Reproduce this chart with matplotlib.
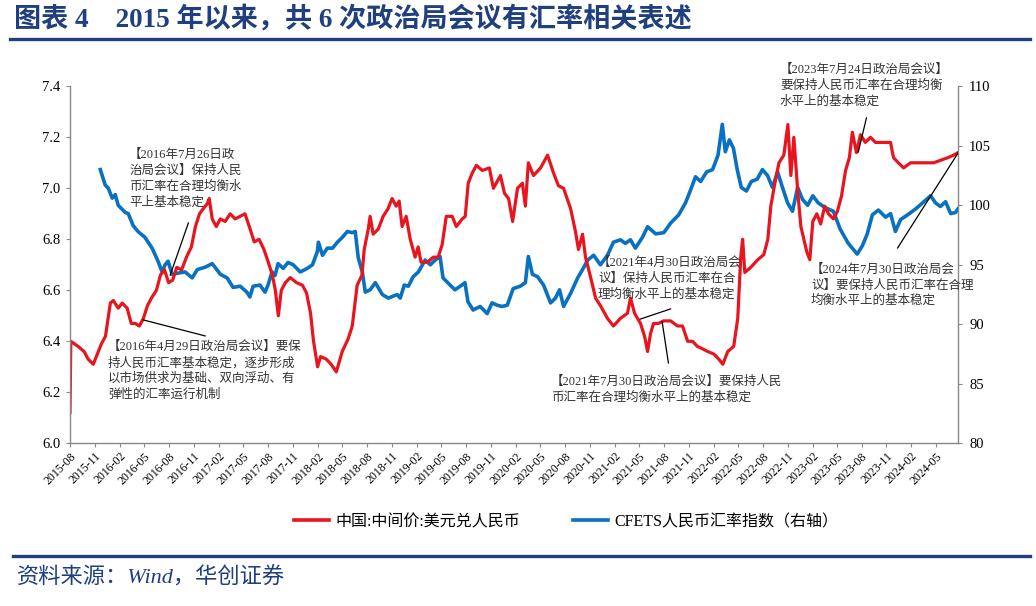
import matplotlib
matplotlib.use("Agg")
import matplotlib.pyplot as plt
import pandas as pd
from matplotlib.lines import Line2D

plt.rcParams['font.family'] = ['Liberation Serif', 'Noto Sans CJK SC']
plt.rcParams['axes.unicode_minus'] = False

# 中间价：美元兑人民币（左轴）
usd_dates = [
    '2015-08-10', '2015-08-13', '2015-09-09', '2015-10-01', '2015-10-16', '2015-11-04', '2015-11-19', '2015-12-04', '2015-12-19', '2015-12-26',
    '2016-01-06', '2016-01-17', '2016-02-04', '2016-02-19', '2016-03-08', '2016-03-23', '2016-04-07', '2016-04-22', '2016-05-07', '2016-05-22',
    '2016-06-06', '2016-06-24', '2016-07-09', '2016-07-24', '2016-08-08', '2016-08-23', '2016-09-07', '2016-09-25', '2016-10-13', '2016-10-31',
    '2016-11-15', '2016-11-30', '2016-12-14', '2016-12-29', '2017-01-05', '2017-01-16', '2017-01-31', '2017-02-15', '2017-03-05', '2017-03-23',
    '2017-04-11', '2017-04-29', '2017-05-17', '2017-06-05', '2017-06-20', '2017-07-08', '2017-07-26', '2017-08-11', '2017-08-26', '2017-09-06',
    '2017-09-17', '2017-09-28', '2017-10-13', '2017-10-31', '2017-11-23', '2017-12-15', '2017-12-30', '2018-01-14', '2018-01-25', '2018-02-09',
    '2018-02-20', '2018-03-13', '2018-03-31', '2018-04-19', '2018-05-11', '2018-06-02', '2018-06-17', '2018-07-05', '2018-07-23', '2018-07-31',
    '2018-08-15', '2018-08-22', '2018-09-02', '2018-09-21', '2018-10-09', '2018-10-27', '2018-11-11', '2018-11-26', '2018-12-07', '2018-12-18',
    '2019-01-02', '2019-01-17', '2019-02-04', '2019-02-15', '2019-02-26', '2019-03-21', '2019-04-12', '2019-04-30', '2019-05-15', '2019-05-30',
    '2019-06-21', '2019-07-06', '2019-07-28', '2019-08-08', '2019-08-19', '2019-09-03', '2019-09-18', '2019-10-10', '2019-11-05', '2019-11-20',
    '2019-12-16', '2019-12-31', '2020-01-15', '2020-01-30', '2020-02-17', '2020-03-06', '2020-03-17', '2020-03-28', '2020-04-16', '2020-05-12',
    '2020-06-07', '2020-06-29', '2020-07-17', '2020-08-05', '2020-08-31', '2020-09-18', '2020-09-29', '2020-10-14', '2020-10-25', '2020-11-13',
    '2020-12-01', '2020-12-19', '2021-01-14', '2021-02-05', '2021-03-03', '2021-03-29', '2021-04-09', '2021-04-24', '2021-05-16', '2021-05-31',
    '2021-06-11', '2021-06-22', '2021-07-03', '2021-07-21', '2021-08-09', '2021-09-04', '2021-09-30', '2021-10-18', '2021-11-06', '2021-11-24',
    '2021-12-12', '2022-01-01', '2022-01-19', '2022-02-11', '2022-03-01', '2022-03-16', '2022-04-03', '2022-04-25', '2022-05-10', '2022-05-21',
    '2022-05-28', '2022-06-05', '2022-06-27', '2022-07-23', '2022-08-14', '2022-08-29', '2022-09-09', '2022-09-24', '2022-10-09', '2022-10-27',
    '2022-11-11', '2022-11-22', '2022-12-03', '2022-12-18', '2022-12-29', '2023-01-09', '2023-01-20', '2023-01-31', '2023-02-11', '2023-02-26',
    '2023-03-12', '2023-03-27', '2023-04-10', '2023-04-28', '2023-05-13', '2023-05-28', '2023-06-12', '2023-06-26', '2023-07-07', '2023-07-22',
    '2023-08-06', '2023-08-24', '2023-09-12', '2023-09-30', '2023-10-26', '2023-11-25', '2023-12-06', '2023-12-24', '2024-01-12', '2024-02-07',
    '2024-03-04', '2024-04-03', '2024-05-02', '2024-05-28', '2024-06-23', '2024-07-15', '2024-07-31',
]
usd_rate = [
    6.12, 6.40, 6.38, 6.36, 6.33, 6.31, 6.35, 6.39, 6.42, 6.47,
    6.55, 6.56, 6.53, 6.55, 6.53, 6.47, 6.47, 6.46, 6.49, 6.54,
    6.57, 6.60, 6.66, 6.68, 6.63, 6.64, 6.69, 6.68, 6.73, 6.77,
    6.85, 6.90, 6.92, 6.94, 6.96, 6.88, 6.85, 6.88, 6.87, 6.90,
    6.88, 6.89, 6.90, 6.84, 6.79, 6.80, 6.76, 6.71, 6.66, 6.60,
    6.50, 6.60, 6.63, 6.65, 6.63, 6.62, 6.59, 6.51, 6.40, 6.30,
    6.34, 6.33, 6.31, 6.28, 6.36, 6.41, 6.46, 6.62, 6.66, 6.76,
    6.84, 6.89, 6.82, 6.84, 6.89, 6.92, 6.96, 6.93, 6.95, 6.85,
    6.89, 6.80, 6.73, 6.77, 6.71, 6.71, 6.73, 6.73, 6.78, 6.89,
    6.89, 6.85, 6.88, 6.89, 7.02, 7.06, 7.09, 7.07, 7.08, 7.00,
    7.05, 6.98, 6.96, 6.87, 7.00, 7.02, 6.93, 7.10, 7.05, 7.08,
    7.13, 7.06, 7.01, 7.00, 6.92, 6.83, 6.76, 6.82, 6.73, 6.65,
    6.57, 6.54, 6.49, 6.46, 6.49, 6.51, 6.57, 6.51, 6.47, 6.42,
    6.36, 6.43, 6.47, 6.47, 6.48, 6.48, 6.46, 6.46, 6.40, 6.40,
    6.38, 6.37, 6.36, 6.35, 6.33, 6.31, 6.36, 6.38, 6.49, 6.73,
    6.80, 6.67, 6.69, 6.72, 6.74, 6.80, 6.93, 7.02, 7.10, 7.13,
    7.25, 7.05, 7.20, 6.98, 6.85, 6.80, 6.75, 6.72, 6.87, 6.90,
    6.86, 6.93, 6.90, 6.88, 6.91, 6.97, 7.07, 7.12, 7.22, 7.14,
    7.21, 7.18, 7.20, 7.18, 7.18, 7.18, 7.12, 7.10, 7.08, 7.10,
    7.10, 7.10, 7.10, 7.11, 7.12, 7.13, 7.14,
]

# CFETS人民币汇率指数（右轴）
cfets_dates = [
    '2015-11-30', '2015-12-18', '2015-12-29', '2016-01-13', '2016-01-24', '2016-02-04', '2016-03-01', '2016-03-12', '2016-03-30', '2016-04-17',
    '2016-05-13', '2016-06-08', '2016-06-30', '2016-07-15', '2016-07-26', '2016-08-06', '2016-08-21', '2016-09-12', '2016-10-08', '2016-11-03',
    '2016-11-22', '2016-12-21', '2017-01-16', '2017-02-15', '2017-03-12', '2017-04-03', '2017-04-29', '2017-05-24', '2017-06-04', '2017-06-16',
    '2017-07-11', '2017-07-30', '2017-08-10', '2017-08-25', '2017-09-05', '2017-09-16', '2017-10-05', '2017-10-23', '2017-11-11', '2017-12-07',
    '2018-01-02', '2018-01-21', '2018-02-08', '2018-02-12', '2018-02-27', '2018-03-17', '2018-04-05', '2018-04-23', '2018-05-11', '2018-05-30',
    '2018-06-17', '2018-06-28', '2018-07-09', '2018-07-24', '2018-08-04', '2018-08-22', '2018-09-10', '2018-10-06', '2018-10-28', '2018-11-30',
    '2018-12-11', '2018-12-26', '2019-01-10', '2019-01-28', '2019-02-16', '2019-03-13', '2019-04-01', '2019-04-19', '2019-05-07', '2019-05-18',
    '2019-06-13', '2019-07-01', '2019-07-27', '2019-08-07', '2019-08-18', '2019-09-06', '2019-10-02', '2019-10-28', '2019-11-15', '2019-12-04',
    '2019-12-22', '2020-01-10', '2020-02-01', '2020-02-27', '2020-03-17', '2020-03-28', '2020-04-12', '2020-05-01', '2020-05-23', '2020-06-18',
    '2020-07-06', '2020-07-21', '2020-08-05', '2020-08-31', '2020-09-26', '2020-10-14', '2020-11-02', '2020-11-24', '2020-12-19', '2021-01-14',
    '2021-02-05', '2021-03-03', '2021-03-21', '2021-04-09', '2021-04-27', '2021-05-23', '2021-06-11', '2021-07-11', '2021-08-10', '2021-09-04',
    '2021-10-04', '2021-10-29', '2021-11-17', '2021-12-05', '2021-12-24', '2022-01-15', '2022-02-06', '2022-02-26', '2022-03-14', '2022-03-25',
    '2022-04-09', '2022-04-24', '2022-05-08', '2022-05-23', '2022-06-11', '2022-06-29', '2022-07-21', '2022-08-09', '2022-08-28', '2022-09-15',
    '2022-10-04', '2022-10-22', '2022-11-10', '2022-11-28', '2022-12-17', '2023-01-04', '2023-01-23', '2023-02-11', '2023-03-03', '2023-03-29',
    '2023-04-28', '2023-05-23', '2023-06-22', '2023-07-25', '2023-08-13', '2023-08-31', '2023-09-19', '2023-10-11', '2023-11-07', '2023-11-25',
    '2023-12-13', '2024-01-01', '2024-01-27', '2024-02-26', '2024-03-22', '2024-04-21', '2024-05-09', '2024-05-27', '2024-06-15', '2024-07-04',
    '2024-07-22', '2024-07-31',
]
cfets_index = [
    103.0, 101.7, 101.45, 100.6, 100.9, 100.0, 99.4, 99.3, 98.3, 97.8,
    97.3, 96.4, 95.3, 94.4, 95.0, 95.3, 94.2, 94.3, 94.4, 93.9,
    94.6, 94.8, 95.1, 94.2, 93.9, 93.1, 93.2, 92.7, 92.3, 93.2,
    93.3, 92.7, 93.3, 94.4, 94.1, 95.1, 94.7, 95.2, 95.0, 94.4,
    94.7, 95.0, 96.1, 96.9, 95.8, 96.4, 96.4, 96.9, 97.3, 97.8,
    97.7, 97.8, 95.6, 94.4, 92.7, 92.9, 93.5, 92.5, 92.2, 92.5,
    92.2, 93.3, 93.2, 94.0, 94.4, 95.4, 95.0, 95.4, 95.7, 93.9,
    93.3, 92.9, 93.3, 93.5, 91.9, 91.2, 91.5, 90.9, 91.8, 91.6,
    91.5, 91.6, 93.0, 93.2, 93.5, 95.7, 94.2, 94.0, 93.3, 91.8,
    92.2, 92.9, 91.5, 92.6, 93.9, 94.6, 95.4, 95.8, 95.0, 95.8,
    96.9, 97.1, 96.8, 97.1, 96.4, 97.3, 98.2, 97.6, 97.7, 98.5,
    99.2, 100.2, 101.3, 102.4, 102.0, 102.8, 103.0, 104.2, 106.8, 104.5,
    105.5, 104.8, 103.0, 101.5, 101.2, 102.0, 102.2, 103.0, 102.5, 101.5,
    102.8, 101.5, 100.2, 99.5, 101.5, 100.5, 100.0, 100.8, 100.2, 99.8,
    99.5, 98.0, 96.8, 95.9, 96.6, 97.6, 99.2, 99.6, 99.0, 99.3,
    97.8, 98.8, 99.2, 99.7, 100.2, 100.8, 100.2, 99.9, 100.3, 99.3,
    99.4, 99.7,
]

# 政治局会议标注：文字行、文字左端与首行中心（像素）、行距、引线两端（日期, 左轴数值）
notes = [
    (['【2016年7月26日政', '治局会议】保持人民', '币汇率在合理均衡水', '平上基本稳定'],
     129, 155, 16, ('2016-08-14', 6.66), ('2016-10-20', 6.864)),
    (['【2016年4月29日政治局会议】要保', '持人民币汇率基本稳定，逐步形成', '以市场供求为基础、双向浮动、有', '弹性的汇率运行机制'],
     108, 347, 16, ('2016-05-06', 6.484), ('2016-12-21', 6.421)),
    (['【2021年4月30日政治局会', '议】保持人民币汇率在合', '理均衡水平上的基本稳定'],
     598, 263, 16, ('2021-05-15', 6.487), ('2021-09-04', 6.527)),
    (['【2021年7月30日政治局会议】要保持人民', '币汇率在合理均衡水平上的基本稳定'],
     551, 382, 15.5, ('2021-08-04', 6.476), ('2021-08-27', 6.315)),
    (['【2023年7月24日政治局会议】', '要保持人民币汇率在合理均衡', '水平上的基本稳定'],
     780, 70, 16, ('2023-07-29', 7.142), ('2023-08-28', 7.276)),
    (['【2024年7月30日政治局会', '议】要保持人民币汇率在合理', '均衡水平上的基本稳定'],
     811, 270, 15.5, ('2024-07-31', 7.138), ('2023-12-21', 6.766)),
]

W, H = 1036, 606
RED = '#E8141E'
BLUE = '#0A70C0'
NAVY = '#1F3F7F'

fig = plt.figure(figsize=(W / 100, H / 100), dpi=100)
ax = fig.add_axes([70 / W, 1 - 443.3 / H, 888 / W, 357 / H])
ax2 = ax.twinx()

ax.plot(pd.to_datetime(usd_dates), usd_rate, color=RED, lw=2.3, solid_joinstyle='round')
ax2.plot(pd.to_datetime(cfets_dates), cfets_index, color=BLUE, lw=2.6, solid_joinstyle='round')

ax.set_xlim(pd.Timestamp('2015-08-10'), pd.Timestamp('2024-07-31'))
ax.set_ylim(6.0, 7.4)
ax2.set_ylim(80, 110)
ax.set_yticks([6.0, 6.2, 6.4, 6.6, 6.8, 7.0, 7.2, 7.4])
ax.set_yticklabels(['6.0', '6.2', '6.4', '6.6', '6.8', '7.0', '7.2', '7.4'])
ax2.set_yticks([80, 85, 90, 95, 100, 105, 110])

xticks = pd.date_range('2015-08-10', '2024-05-10', freq=pd.DateOffset(months=3))
ax.set_xticks(xticks)
ax.set_xticklabels([d.strftime('%Y-%m') for d in xticks], rotation=45, ha='right',
                   rotation_mode='anchor', fontsize=8.5)

for a in (ax, ax2):
    a.spines['top'].set_visible(False)
    for side in ('left', 'right', 'bottom'):
        a.spines[side].set_color('#888888')
        a.spines[side].set_linewidth(1.0)
ax.spines['right'].set_visible(False)
ax2.spines['left'].set_visible(False)
ax2.spines['bottom'].set_visible(False)
ax.tick_params(axis='y', direction='out', length=3, color='#888888', labelsize=10.5, pad=4)
ax.tick_params(axis='x', direction='out', length=3, color='#888888', pad=2)
ax2.tick_params(axis='y', direction='out', length=3, color='#888888', labelsize=10.5, pad=5)
ax.set_zorder(ax2.get_zorder() + 1)
ax.patch.set_visible(False)

# 标注
for lines, px, py, gap, tip, end in notes:
    ax.plot([pd.Timestamp(tip[0]), pd.Timestamp(end[0])], [tip[1], end[1]],
            color='black', lw=0.9, zorder=5)
    for i, s in enumerate(lines):
        fig.text(px / W, 1 - (py + i * gap) / H, s, fontsize=9, color='#333333',
                 ha='left', va='center')

# 图例
handles = [Line2D([], [], color=RED, lw=2.6), Line2D([], [], color=BLUE, lw=2.6)]
fig.legend(handles, ['中国:中间价:美元兑人民币', 'CFETS人民币汇率指数（右轴）'],
           loc='center', bbox_to_anchor=(566 / W, 1 - 522 / H), ncol=2, frameon=False,
           fontsize=11.5, handlelength=2.2, handletextpad=0.4, columnspacing=3.3)

# 标题与来源
fig.text(14 / W, 1 - 19 / H, '图表 4    2015 年以来，共 6 次政治局会议有汇率相关表述',
         fontsize=19.5, fontweight='bold', color=NAVY, ha='left', va='center')
fig.add_artist(Line2D([10 / W, 1030 / W], [1 - 38.5 / H, 1 - 38.5 / H], color=NAVY, lw=2.4))
fig.add_artist(Line2D([13 / W, 1030 / W], [1 - 555.5 / H, 1 - 555.5 / H], color=NAVY, lw=2.4))
fig.text(17 / W, 1 - 578 / H, '资料来源：Wind，华创证券', fontsize=16, style='italic',
         color=NAVY, ha='left', va='center')

fig.savefig('out.png', dpi=100)
